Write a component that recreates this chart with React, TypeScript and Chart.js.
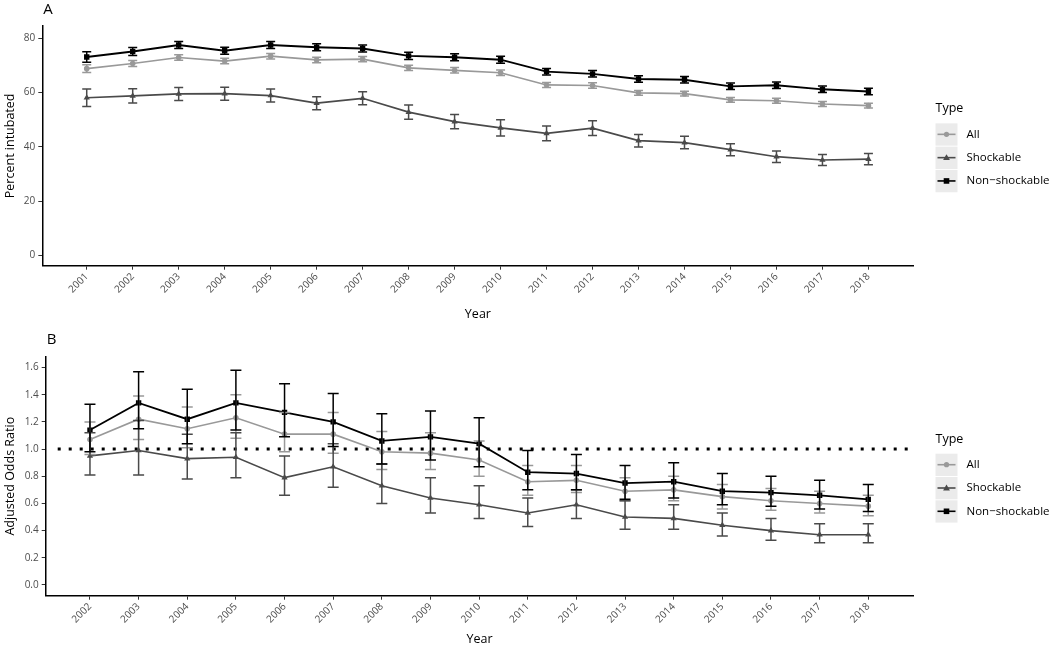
import React, { useEffect, useRef } from 'react';
import { Chart, registerables } from 'chart.js';

Chart.register(...registerables);

// ---------- data ----------
const yearsA = [2001, 2002, 2003, 2004, 2005, 2006, 2007, 2008, 2009, 2010, 2011, 2012, 2013, 2014, 2015, 2016, 2017, 2018];
const yearsB = [2002, 2003, 2004, 2005, 2006, 2007, 2008, 2009, 2010, 2011, 2012, 2013, 2014, 2015, 2016, 2017, 2018];

const seriesNames = ['All', 'Shockable', 'Non\u2212shockable'];
const seriesColors = ['#999999', '#4a4a4a', '#000000'];
const seriesShapes = ['circle', 'triangle', 'rect'];

// Panel A: percent intubated
const aAll = [68.8, 70.7, 72.9, 71.6, 73.4, 72.0, 72.3, 69.1, 68.2, 67.3, 62.8, 62.6, 59.9, 59.6, 57.3, 57.0, 55.8, 55.2];
const aAllLo = [67.4, 69.6, 71.9, 70.6, 72.4, 71.0, 71.3, 68.1, 67.2, 66.3, 61.9, 61.6, 59.0, 58.7, 56.4, 56.1, 54.9, 54.3];
const aAllHi = [70.2, 71.8, 73.9, 72.6, 74.4, 73.0, 73.3, 70.1, 69.2, 68.3, 63.7, 63.6, 60.8, 60.5, 58.2, 57.9, 56.7, 56.1];

const aShock = [58.1, 58.8, 59.5, 59.6, 58.9, 56.1, 57.9, 52.8, 49.3, 47.0, 45.0, 46.9, 42.3, 41.6, 39.0, 36.4, 35.2, 35.5];
const aShockLo = [54.9, 56.2, 57.1, 57.2, 56.5, 53.7, 55.5, 50.2, 46.7, 44.0, 42.3, 44.2, 40.0, 39.3, 36.8, 34.3, 33.2, 33.4];
const aShockHi = [61.3, 61.4, 61.9, 62.0, 61.3, 58.5, 60.3, 55.4, 51.9, 50.0, 47.7, 49.6, 44.6, 43.9, 41.2, 38.5, 37.2, 37.6];

const aNon = [73.1, 75.1, 77.5, 75.4, 77.5, 76.7, 76.2, 73.5, 73.0, 72.1, 67.7, 66.9, 65.0, 64.7, 62.3, 62.7, 61.2, 60.4];
const aNonLo = [71.2, 73.6, 76.2, 74.1, 76.2, 75.4, 74.9, 72.2, 71.7, 70.8, 66.5, 65.7, 63.8, 63.5, 61.1, 61.5, 60.0, 59.2];
const aNonHi = [75.0, 76.6, 78.8, 76.7, 78.8, 78.0, 77.5, 74.8, 74.3, 73.4, 68.9, 68.1, 66.2, 65.9, 63.5, 63.9, 62.4, 61.6];

// Panel B: adjusted odds ratio
const bAll = [1.07, 1.22, 1.15, 1.23, 1.11, 1.11, 0.98, 0.97, 0.92, 0.76, 0.77, 0.69, 0.70, 0.65, 0.62, 0.60, 0.58];
const bAllLo = [0.96, 1.07, 1.01, 1.08, 0.98, 0.97, 0.85, 0.85, 0.80, 0.66, 0.68, 0.62, 0.62, 0.56, 0.55, 0.53, 0.51];
const bAllHi = [1.20, 1.39, 1.31, 1.40, 1.27, 1.27, 1.13, 1.12, 1.06, 0.88, 0.88, 0.79, 0.80, 0.74, 0.71, 0.69, 0.66];

const bShock = [0.95, 0.99, 0.93, 0.94, 0.79, 0.87, 0.73, 0.64, 0.59, 0.53, 0.59, 0.50, 0.49, 0.44, 0.40, 0.37, 0.37];
const bShockLo = [0.81, 0.81, 0.78, 0.79, 0.66, 0.72, 0.60, 0.53, 0.49, 0.43, 0.49, 0.41, 0.41, 0.36, 0.33, 0.31, 0.31];
const bShockHi = [1.12, 1.21, 1.11, 1.12, 0.95, 1.04, 0.89, 0.79, 0.73, 0.64, 0.70, 0.62, 0.59, 0.53, 0.49, 0.45, 0.45];

const bNon = [1.14, 1.34, 1.22, 1.34, 1.27, 1.20, 1.06, 1.09, 1.04, 0.83, 0.82, 0.75, 0.76, 0.69, 0.68, 0.66, 0.63];
const bNonLo = [0.98, 1.15, 1.04, 1.14, 1.09, 1.02, 0.89, 0.92, 0.87, 0.70, 0.70, 0.63, 0.64, 0.59, 0.58, 0.56, 0.54];
const bNonHi = [1.33, 1.57, 1.44, 1.58, 1.48, 1.41, 1.26, 1.28, 1.23, 0.99, 0.96, 0.88, 0.90, 0.82, 0.80, 0.77, 0.74];

const yTicksA = [0, 20, 40, 60, 80];
const yTicksB = [0, 0.2, 0.4, 0.6, 0.8, 1.0, 1.2, 1.4, 1.6];

const FONT = '"Open Sans", "DejaVu Sans", sans-serif';

// ---------- plugins ----------
const errorBarPlugin = {
  id: 'errorBars',
  afterDatasetsDraw(chart: any, _args: any, opts: any) {
    const { ctx } = chart;
    const xs = chart.scales.x;
    const ys = chart.scales.y;
    const cap = opts.cap || 4.5;
    chart.data.datasets.forEach((ds: any) => {
      if (!ds.errLo) return;
      ctx.save();
      ctx.strokeStyle = ds.borderColor;
      ctx.lineWidth = opts.lineWidth || 1.5;
      ds.data.forEach((p: any, j: number) => {
        const x = xs.getPixelForValue(p.x);
        const y1 = ys.getPixelForValue(ds.errLo[j]);
        const y2 = ys.getPixelForValue(ds.errHi[j]);
        ctx.beginPath();
        ctx.moveTo(x, y1);
        ctx.lineTo(x, y2);
        ctx.moveTo(x - cap, y1);
        ctx.lineTo(x + cap, y1);
        ctx.moveTo(x - cap, y2);
        ctx.lineTo(x + cap, y2);
        ctx.stroke();
      });
      ctx.restore();
    });
  },
};

const refLinePlugin = {
  id: 'refLine',
  beforeDatasetsDraw(chart: any, _args: any, opts: any) {
    if (opts.value === undefined || opts.value === null) return;
    const { ctx, chartArea } = chart;
    const y = chart.scales.y.getPixelForValue(opts.value);
    ctx.save();
    ctx.strokeStyle = '#000';
    ctx.lineWidth = 3;
    ctx.setLineDash([3, 8]);
    ctx.beginPath();
    ctx.moveTo(chartArea.left + 12, y);
    ctx.lineTo(chartArea.right, y);
    ctx.stroke();
    ctx.restore();
  },
};

function drawMarker(ctx: CanvasRenderingContext2D, shape: string, x: number, y: number, color: string) {
  ctx.fillStyle = color;
  ctx.beginPath();
  if (shape === 'circle') {
    ctx.arc(x, y, 2.6, 0, Math.PI * 2);
  } else if (shape === 'triangle') {
    ctx.moveTo(x, y - 3.4);
    ctx.lineTo(x + 3.4, y + 2.4);
    ctx.lineTo(x - 3.4, y + 2.4);
    ctx.closePath();
  } else {
    ctx.rect(x - 2.8, y - 2.8, 5.6, 5.6);
  }
  ctx.fill();
}

const decorPlugin = {
  id: 'decor',
  afterDraw(chart: any, _args: any, opts: any) {
    const { ctx, chartArea } = chart;
    ctx.save();
    // panel label
    ctx.fillStyle = '#000';
    ctx.font = '15px ' + FONT;
    ctx.textAlign = 'left';
    ctx.textBaseline = 'middle';
    ctx.fillText(opts.label, chartArea.left + 1, opts.labelY);
    // legend
    const lx = chartArea.right + 22;
    const cy = (chartArea.top + chartArea.bottom) / 2;
    ctx.font = '12.5px ' + FONT;
    ctx.fillText('Type', lx, cy - 37);
    const offs = [-11.5, 11.8, 35.1];
    ctx.font = '11.5px ' + FONT;
    seriesNames.forEach((name, i) => {
      const ry = cy + offs[i];
      ctx.fillStyle = '#ebebeb';
      ctx.fillRect(lx, ry - 11, 22, 22.3);
      ctx.strokeStyle = seriesColors[i];
      ctx.lineWidth = 1.6;
      ctx.beginPath();
      ctx.moveTo(lx + 2, ry);
      ctx.lineTo(lx + 20, ry);
      ctx.stroke();
      drawMarker(ctx, seriesShapes[i], lx + 11, ry, seriesColors[i]);
      ctx.fillStyle = '#000';
      ctx.fillText(name, lx + 31, ry);
    });
    ctx.restore();
  },
};

// ---------- config builder ----------
function makeDataset(i: number, years: number[], vals: number[], lo: number[], hi: number[], lw: number) {
  const radii = [2.8, 3.6, 3.8];
  return {
    label: seriesNames[i],
    data: years.map((yr, j) => ({ x: yr, y: vals[j] })),
    errLo: lo,
    errHi: hi,
    borderColor: seriesColors[i],
    backgroundColor: seriesColors[i],
    pointBackgroundColor: seriesColors[i],
    pointBorderColor: seriesColors[i],
    pointBorderWidth: 0,
    pointStyle: seriesShapes[i],
    pointRadius: radii[i],
    borderWidth: lw,
    tension: 0,
    fill: false,
  };
}

interface PanelSpec {
  label: string;
  labelY: number;
  years: number[];
  datasets: any[];
  xMin: number;
  xMax: number;
  yMin: number;
  yMax: number;
  yTicks: number[];
  yFmt: (v: number) => string;
  yTitle: string;
  yWidth: number;
  xHeight: number;
  padTop: number;
  padRight: number;
  cap: number;
  refValue?: number;
}

function makeConfig(p: PanelSpec): any {
  return {
    type: 'line',
    data: { datasets: p.datasets },
    plugins: [refLinePlugin, errorBarPlugin, decorPlugin],
    options: {
      animation: false,
      responsive: false,
      maintainAspectRatio: false,
      events: [],
      layout: { padding: { left: 0, top: p.padTop, right: p.padRight, bottom: 0 } },
      plugins: {
        legend: { display: false },
        tooltip: { enabled: false },
        title: { display: false },
        errorBars: { cap: p.cap, lineWidth: 1.5 },
        refLine: { value: p.refValue },
        decor: { label: p.label, labelY: p.labelY },
      },
      scales: {
        x: {
          type: 'linear',
          min: p.xMin,
          max: p.xMax,
          afterBuildTicks: (s: any) => {
            s.ticks = p.years.map((v) => ({ value: v }));
          },
          afterFit: (s: any) => {
            s.height = p.xHeight;
          },
          ticks: {
            autoSkip: false,
            minRotation: 45,
            maxRotation: 45,
            padding: 1,
            color: '#4d4d4d',
            font: { family: FONT, size: 10 },
            callback: (v: any) => String(v),
          },
          grid: { display: true, drawOnChartArea: false, drawTicks: true, tickLength: 4, color: '#333', lineWidth: 1 },
          border: { display: true, color: '#000', width: 1.5 },
          title: {
            display: true,
            text: 'Year',
            color: '#000',
            font: { family: FONT, size: 12.5 },
            padding: { top: 0, bottom: 2 },
          },
        },
        y: {
          type: 'linear',
          min: p.yMin,
          max: p.yMax,
          afterBuildTicks: (s: any) => {
            s.ticks = p.yTicks.map((v) => ({ value: v }));
          },
          afterFit: (s: any) => {
            s.width = p.yWidth;
          },
          ticks: {
            padding: 3,
            color: '#4d4d4d',
            font: { family: FONT, size: 10 },
            callback: (v: any) => p.yFmt(Number(v)),
          },
          grid: { display: true, drawOnChartArea: false, drawTicks: true, tickLength: 4, color: '#333', lineWidth: 1 },
          border: { display: true, color: '#000', width: 1.5 },
          title: {
            display: true,
            text: p.yTitle,
            color: '#000',
            font: { family: FONT, size: 12.5 },
            padding: { top: 3, bottom: 0 },
          },
        },
      },
    },
  };
}

function Panel({ spec, top, height }: { spec: PanelSpec; top: number; height: number }) {
  const ref = useRef<HTMLCanvasElement | null>(null);
  useEffect(() => {
    if (!ref.current) return;
    const chart = new Chart(ref.current, makeConfig(spec));
    return () => chart.destroy();
  }, []);
  return (
    <canvas
      ref={ref}
      width={1050}
      height={height}
      style={{ position: 'absolute', left: 0, top, width: 1050, height, display: 'block' }}
    />
  );
}

const specA: PanelSpec = {
  label: 'A',
  labelY: 10,
  years: yearsA,
  datasets: [
    makeDataset(0, yearsA, aAll, aAllLo, aAllHi, 1.7),
    makeDataset(1, yearsA, aShock, aShockLo, aShockHi, 1.7),
    makeDataset(2, yearsA, aNon, aNonLo, aNonHi, 1.9),
  ],
  xMin: 2000.034,
  xMax: 2018.98,
  yMin: -3.7,
  yMax: 84.5,
  yTicks: yTicksA,
  yFmt: (v) => String(v),
  yTitle: 'Percent intubated',
  yWidth: 42.3,
  xHeight: 58.3,
  padTop: 26,
  padRight: 136.5,
  cap: 4.5,
};

const specB: PanelSpec = {
  label: 'B',
  labelY: 16,
  years: yearsB,
  datasets: [
    makeDataset(0, yearsB, bAll, bAllLo, bAllHi, 1.6),
    makeDataset(1, yearsB, bShock, bShockLo, bShockHi, 1.6),
    makeDataset(2, yearsB, bNon, bNonLo, bNonHi, 1.8),
  ],
  xMin: 2001.09,
  xMax: 2018.93,
  yMin: -0.079,
  yMax: 1.68,
  yTicks: yTicksB,
  yFmt: (v) => v.toFixed(1),
  yTitle: 'Adjusted Odds Ratio',
  yWidth: 45.7,
  xHeight: 53.3,
  padTop: 32.7,
  padRight: 136.5,
  cap: 5.5,
  refValue: 1,
};

export default function App() {
  return (
    <div style={{ position: 'absolute', left: 0, top: 0, width: 1050, height: 649, background: '#fff' }}>
      <Panel spec={specA} top={0} height={324} />
      <Panel spec={specB} top={324} height={325} />
    </div>
  );
}
